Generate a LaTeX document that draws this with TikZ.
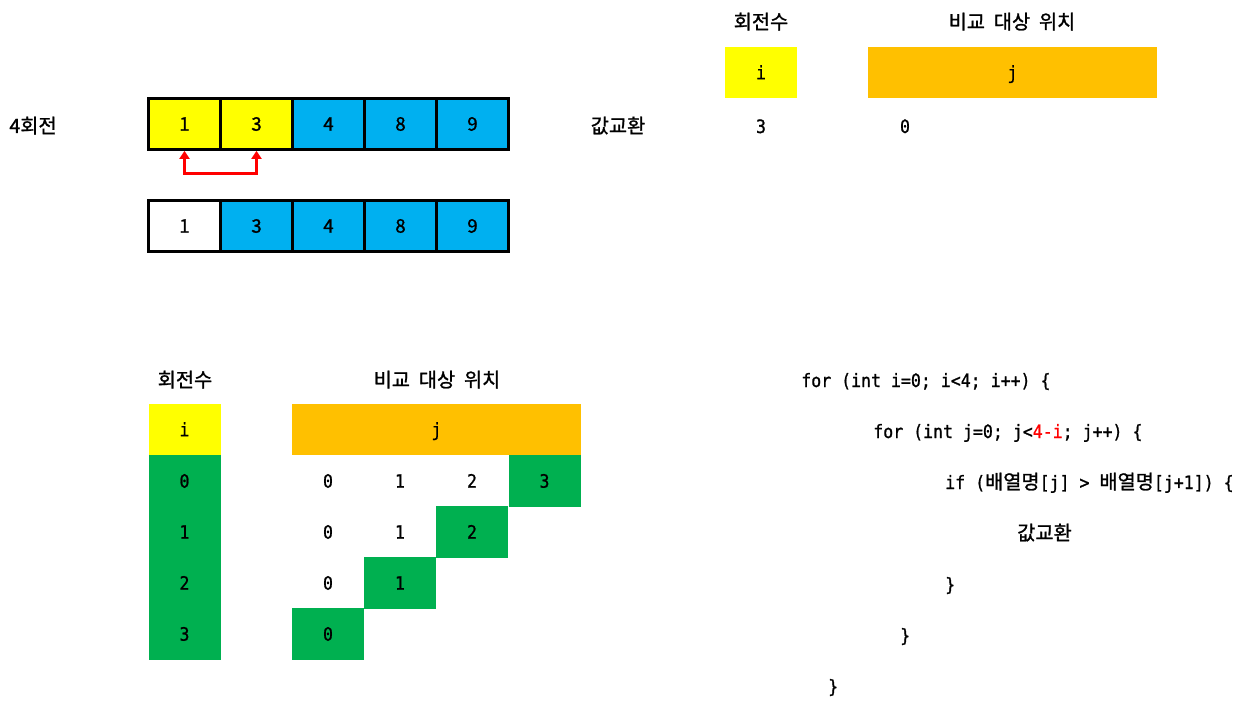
\documentclass[tikz,border=0pt]{standalone}
\usepackage{fontspec}
\setmainfont{Noto Sans CJK KR}
\newfontfamily\kofam[WordSpace=2,FakeBold=1.2]{Noto Sans CJK KR}
\newfontfamily\monofam[FakeBold=1.0,FakeStretch=0.9]{DejaVu Sans Mono}
\usetikzlibrary{arrows.meta}
\newcommand\codefont{\monofam\fontsize{13.8}{16}\selectfont}
\newcommand\krfont{\kofam\fontsize{14.8}{18}\selectfont}
\newcommand\krdig{\kofam\fontsize{14}{16}\selectfont}
\definecolor{cyel}{HTML}{FFFF00}
\definecolor{cblue}{HTML}{00B0F0}
\definecolor{corange}{HTML}{FFC000}
\definecolor{cgreen}{HTML}{00B050}
\definecolor{cred}{HTML}{FF0000}
\begin{document}
\begin{tikzpicture}[x=0.75pt,y=-0.75pt,
  arrcell/.style={draw=black, line width=2.25pt, minimum width=54pt, minimum height=38pt,
    inner sep=0pt, text height=10pt, text depth=0pt, font=\krdig},
  tcell/.style={minimum width=54pt, minimum height=39pt, inner sep=0pt,
    text height=10pt, text depth=0pt, font=\codefont},
  klabel/.style={anchor=base, inner sep=0pt, font=\krfont},
  mlabel/.style={anchor=base, inner sep=0pt, font=\codefont},
  codeline/.style={anchor=base west, inner sep=0pt, font=\codefont},
  swap/.style={draw=cred, line width=2.25pt, {Triangle[width=7.5pt,length=6pt]}-{Triangle[width=7.5pt,length=6pt]}}
]
\useasboundingbox (0,0) rectangle (1253,706);

% ---------- top-left array ----------
\node[klabel] (lbl4) at (33,133) {4회전};
\node[arrcell, fill=cyel]  (a1) at (184.5,124) {1};
\node[arrcell, fill=cyel]  (a2) at (256.5,124) {3};
\node[arrcell, fill=cblue] (a3) at (328.5,124) {4};
\node[arrcell, fill=cblue] (a4) at (400.5,124) {8};
\node[arrcell, fill=cblue] (a5) at (472.5,124) {9};

\node[arrcell, fill=white] (b1) at (184.5,226) {1};
\node[arrcell, fill=cblue] (b2) at (256.5,226) {3};
\node[arrcell, fill=cblue] (b3) at (328.5,226) {4};
\node[arrcell, fill=cblue] (b4) at (400.5,226) {8};
\node[arrcell, fill=cblue] (b5) at (472.5,226) {9};

\draw[swap] (a1.south) -- ++(0,23) -| (a2.south);

% ---------- top-right ----------
\node[klabel] (h1) at (761,29) {회전수};
\node[klabel] (h2) at (1012,29) {비교 대상 위치};
\node[tcell, fill=cyel, minimum width=54pt, minimum height=38.25pt] (ti) at (761,72.5) {i};
\node[tcell, fill=corange, minimum width=216.75pt, minimum height=38.25pt] (tj) at (1012.5,72.5) {j};
\node[klabel] (swaplbl) at (618,133) {값교환};
\node[mlabel] (v3) at (761,133) {3};
\node[mlabel] (v0) at (905,133) {0};

% ---------- bottom table ----------
\node[klabel] (bh1) at (185,387) {회전수};
\node[klabel] (bh2) at (437,387) {비교 대상 위치};
\node[tcell, fill=cyel, minimum height=38.25pt] (bi) at (184.5,429.5) {i};
\node[tcell, fill=corange, minimum width=216.75pt, minimum height=38.25pt] (bj) at (436.5,429.5) {j};

\node[tcell, fill=cgreen] (i0) at (184.5,481) {0};
\node[tcell, fill=cgreen] (i1) at (184.5,532) {1};
\node[tcell, fill=cgreen] (i2) at (184.5,583) {2};
\node[tcell, fill=cgreen] (i3) at (184.5,634) {3};

\node[tcell] (j00) at (328,481) {0};
\node[tcell] (j01) at (400,481) {1};
\node[tcell] (j02) at (472,481) {2};
\node[tcell, fill=cgreen] (j03) at (544.5,481) {3};

\node[tcell] (j10) at (328,532) {0};
\node[tcell] (j11) at (400,532) {1};
\node[tcell, fill=cgreen] (j12) at (472,532) {2};

\node[tcell] (j20) at (328,583) {0};
\node[tcell, fill=cgreen] (j21) at (400,583) {1};

\node[tcell, fill=cgreen] (j30) at (328,634) {0};

% ---------- code ----------
\node[codeline] (c1) at (801,387) {for (int i=0; i<4; i++) \{};
\node[codeline] (c2) at (873,438) {for (int j=0; j<\textcolor{cred}{4-i}; j++) \{};
\node[codeline] (c3) at (945,489) {if ({\krfont 배열명}[j] > {\krfont 배열명}[j+1]) \{};
\node[codeline, font=\krfont] (c4) at (1017,540) {값교환};
\node[codeline] (c5) at (945,591) {\}};
\node[codeline] (c6) at (900,642) {\}};
\node[codeline] (c7) at (828,693) {\}};
\end{tikzpicture}
\end{document}
